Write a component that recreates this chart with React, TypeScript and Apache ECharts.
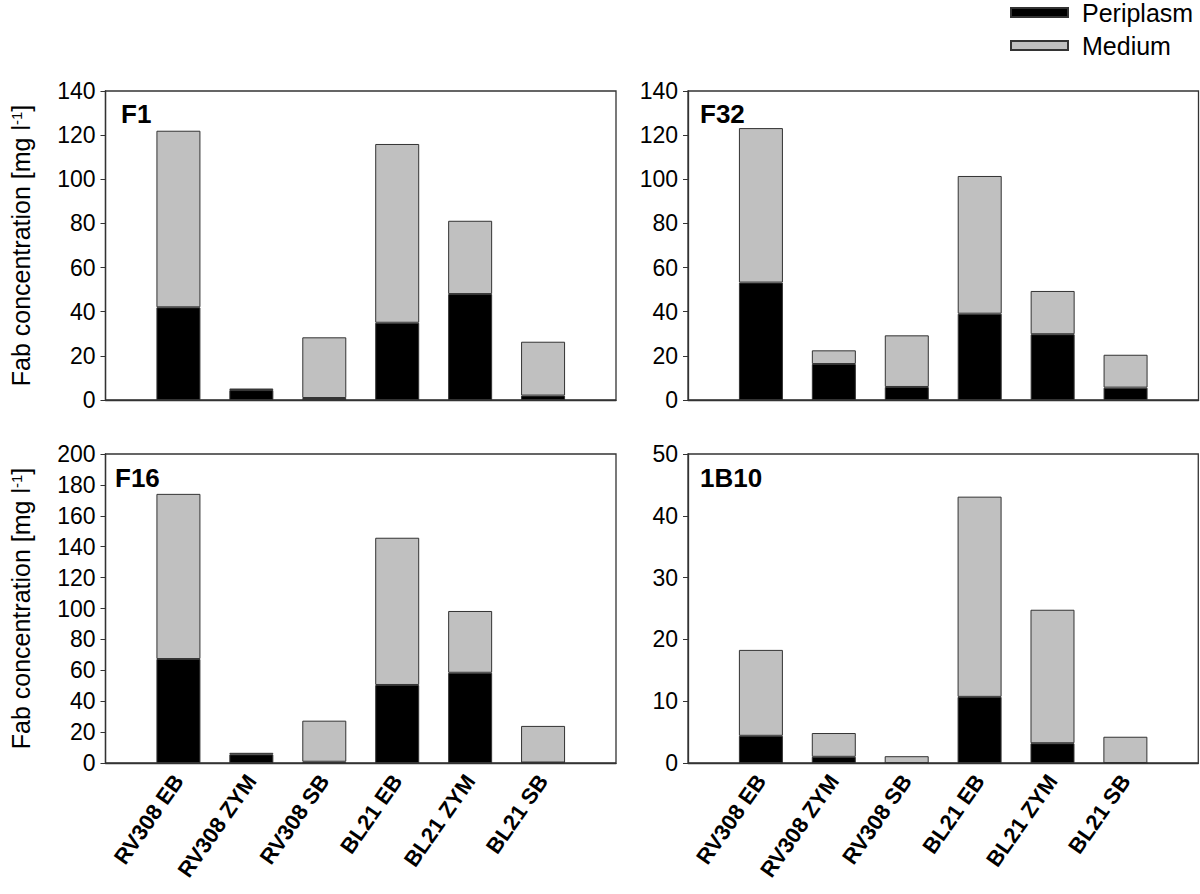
import React, { useEffect, useRef } from "react";
import * as echarts from "echarts";

const categories = ["RV308 EB", "RV308 ZYM", "RV308 SB", "BL21 EB", "BL21 ZYM", "BL21 SB"];
const panelTitles = ["F1", "F32", "F16", "1B10"];

// periplasm and total values per panel
const f1Periplasm = [42, 4.5, 0.9, 35, 48, 2.0];
const f1Total = [122, 5.2, 28.4, 116, 81.2, 26.4];
const f32Periplasm = [53.2, 16.3, 5.9, 39.1, 29.8, 5.6];
const f32Total = [123.2, 22.5, 29.3, 101.5, 49.4, 20.5];
const f16Periplasm = [67.3, 5.6, 0.8, 50.5, 58.4, 0.3];
const f16Total = [174.2, 6.6, 27.4, 145.8, 98.4, 24.0];
const b10Periplasm = [4.4, 1.0, 0, 10.7, 3.2, 0];
const b10Total = [18.3, 4.85, 1.1, 43.1, 24.8, 4.25];

const yMax = [140, 140, 200, 50];
const yInterval = [20, 20, 20, 10];

const FONT = "'Liberation Sans', Arial, Helvetica, sans-serif";

export default function App() {
  const ref = useRef<HTMLDivElement>(null);

  useEffect(() => {
    if (!ref.current) return;
    const chart = echarts.init(ref.current, undefined, { renderer: "svg" });

    const periplasm = [f1Periplasm, f32Periplasm, f16Periplasm, b10Periplasm];
    const totals = [f1Total, f32Total, f16Total, b10Total];

    const grids = [
      { left: 105.5, top: 91, width: 510.5, height: 309 },
      { left: 688, top: 91, width: 510.5, height: 309 },
      { left: 105.5, top: 454, width: 510.5, height: 309 },
      { left: 688, top: 454, width: 510.5, height: 309 },
    ].map((g) => ({
      ...g,
      show: true,
      borderColor: "#333",
      borderWidth: 1.3,
      backgroundColor: "transparent",
    }));

    const xData = ["", ...categories, ""];

    const xAxes = [0, 1, 2, 3].map((i) => ({
      type: "category" as const,
      gridIndex: i,
      data: xData,
      boundaryGap: false,
      axisLine: { show: true, lineStyle: { color: "#333", width: 1.3 } },
      axisTick: { show: false },
      axisLabel: {
        show: i >= 2,
        rotate: 55,
        interval: 0,
        margin: 14,
        fontSize: 22,
        fontWeight: "bold" as const,
        color: "#000",
        fontFamily: FONT,
      },
    }));

    const yAxes = [0, 1, 2, 3].map((i) => ({
      type: "value" as const,
      gridIndex: i,
      min: 0,
      max: yMax[i],
      interval: yInterval[i],
      splitLine: { show: false },
      axisLine: { show: true, lineStyle: { color: "#333", width: 1.3 } },
      axisTick: { show: true, inside: false, length: 5, lineStyle: { color: "#333" } },
      axisLabel: { fontSize: 23, color: "#000", margin: 10, fontFamily: FONT },
      name: i === 0 || i === 2 ? "Fab concentration [mg l{sup|-1}]" : "",
      nameLocation: "middle" as const,
      nameGap: 72,
      nameTextStyle: {
        fontSize: 25,
        color: "#000",
        fontFamily: FONT,
        rich: {
          sup: { fontSize: 15, verticalAlign: "top" as const, fontFamily: FONT, color: "#000", padding: [0, 0, 10, 0] },
        },
      },
    }));

    const series: any[] = [];
    for (let i = 0; i < 4; i++) {
      const per = periplasm[i];
      const med = totals[i].map((t, k) => Math.max(0, +(t - per[k]).toFixed(2)));
      series.push({
        name: "Periplasm",
        type: "bar",
        xAxisIndex: i,
        yAxisIndex: i,
        stack: "s" + i,
        barWidth: 44,
        data: [null, ...per, null],
        itemStyle: { color: "#000", borderColor: "#333", borderWidth: 1 },
      });
      series.push({
        name: "Medium",
        type: "bar",
        xAxisIndex: i,
        yAxisIndex: i,
        stack: "s" + i,
        barWidth: 44,
        data: [null, ...med, null],
        itemStyle: { color: "#c0c0c0", borderColor: "#333", borderWidth: 1 },
      });
    }

    const titlePos = [
      [121, 101],
      [700, 101],
      [115, 465],
      [700, 465],
    ];

    chart.setOption({
      animation: false,
      textStyle: { fontFamily: FONT },
      legend: {
        orient: "vertical",
        left: 1010,
        top: 0,
        padding: 0,
        itemWidth: 57,
        itemHeight: 9,
        itemGap: 8,
        data: ["Periplasm", "Medium"],
        textStyle: { fontSize: 25, color: "#000", fontFamily: FONT, padding: [0, 0, 0, 9] },
        icon: "rect",
      },
      grid: grids,
      xAxis: xAxes,
      yAxis: yAxes,
      series,
      graphic: panelTitles.map((t, i) => ({
        type: "text",
        left: titlePos[i][0],
        top: titlePos[i][1],
        style: { text: t, fontSize: 26, fontWeight: "bold", fill: "#000", fontFamily: FONT },
      })),
    });

    return () => chart.dispose();
  }, []);

  return (
    <div
      ref={ref}
      style={{ position: "fixed", left: 0, top: 0, width: 1200, height: 894, background: "#fff" }}
    />
  );
}
